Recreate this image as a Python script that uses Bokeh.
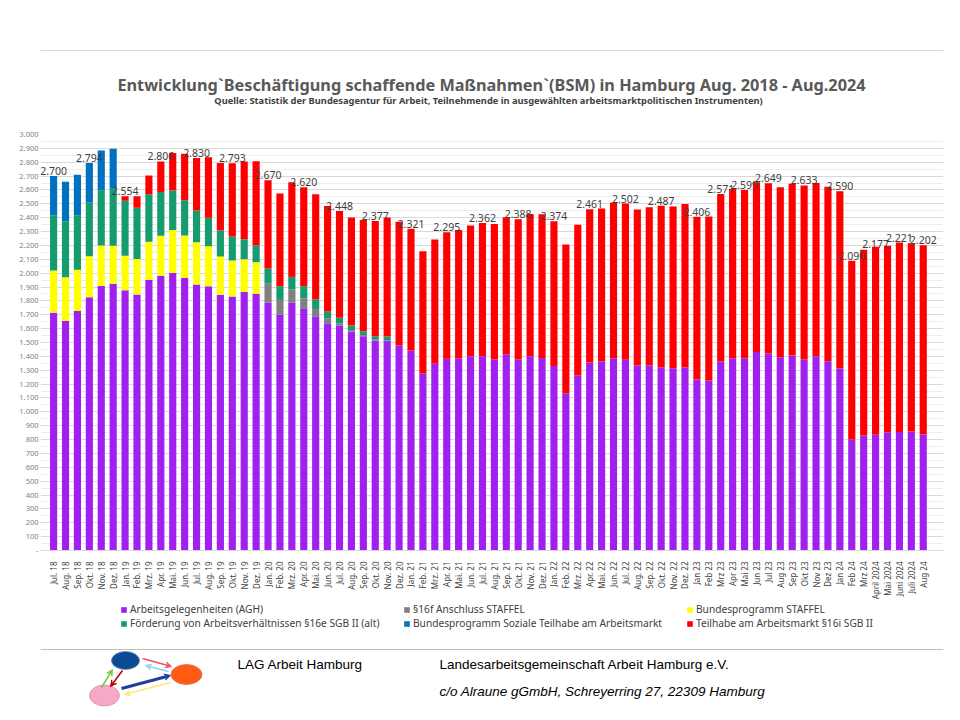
import math
from bokeh.plotting import figure
from bokeh.models import (ColumnDataSource, FixedTicker, Legend, LegendItem, Range1d,
                          Arrow, VeeHead)
from bokeh.layouts import column
from bokeh.embed import file_html
from bokeh.resources import INLINE
from bokeh.core.properties import value

# ---------------- data ----------------
months = ["Jul. 18", "Aug. 18", "Sep. 18", "Okt. 18", "Nov. 18", "Dez. 18",
          "Jan. 19", "Feb. 19", "Mrz. 19", "Apr. 19", "Mai. 19", "Jun. 19",
          "Jul. 19", "Aug. 19", "Sep. 19", "Okt. 19", "Nov. 19", "Dez. 19",
          "Jan. 20", "Feb. 20", "Mrz. 20", "Apr. 20", "Mai. 20", "Jun. 20",
          "Jul. 20", "Aug. 20", "Sep. 20", "Okt. 20", "Nov. 20", "Dez. 20",
          "Jan. 21", "Feb. 21", "Mrz. 21", "Apr. 21", "Mai. 21", "Jun. 21",
          "Jul. 21", "Aug. 21", "Sep. 21", "Okt. 21", "Nov. 21", "Dez. 21",
          "Jan. 22", "Feb. 22", "Mrz. 22", "Apr. 22", "Mai. 22", "Jun. 22",
          "Jul. 22", "Aug. 22", "Sep. 22", "Okt. 22", "Nov. 22", "Dez. 22",
          "Jan 23", "Feb 23", "Mrz 23", "Apr 23", "Mai 23", "Jun 23",
          "Jul 23", "Aug 23", "Sep 23", "Okt 23", "Nov 23", "Dez 23",
          "Jan 24", "Feb 24", "Mrz 24", "April 2024", "Mai 2024", "Juni 2024",
          "Juli 2024", "Aug 24"]

# Arbeitsgelegenheiten (AGH)
agh = [1715, 1655, 1728, 1826, 1907, 1923, 1876, 1847, 1952, 1981, 2002, 1966,
       1918, 1905, 1845, 1832, 1864, 1851, 1788, 1699, 1788, 1742, 1689, 1639,
       1622, 1580, 1545, 1515, 1510, 1480, 1442, 1276, 1348, 1382, 1387, 1401,
       1401, 1377, 1415, 1377, 1401, 1389, 1331, 1132, 1262, 1355, 1363, 1387,
       1375, 1334, 1334, 1322, 1314, 1320, 1233, 1226, 1363, 1387, 1385, 1432,
       1420, 1394, 1406, 1377, 1401, 1365, 1312, 800, 829, 835, 851, 855,
       858, 836]
# §16f Anschluss STAFFEL
s16f = [0, 0, 0, 0, 0, 0, 0, 0, 0, 0, 0, 0,
        0, 0, 0, 0, 0, 0, 139, 108, 94, 77, 53, 36,
        17, 10, 8, 5, 5, 0, 0, 0, 0, 0, 0, 0,
        0, 0, 0, 0, 0, 0, 0, 0, 0, 0, 0, 0,
        0, 0, 0, 0, 0, 0, 0, 0, 0, 0, 0, 0,
        0, 0, 0, 0, 0, 0, 0, 0, 0, 0, 0, 0,
        0, 0]
# Bundesprogramm STAFFEL
staffel = [305, 315, 297, 296, 293, 275, 249, 256, 274, 288, 310, 305,
           305, 289, 275, 259, 237, 228, 0, 0, 0, 0, 0, 0,
           0, 0, 0, 0, 0, 0, 0, 0, 0, 0, 0, 0,
           0, 0, 0, 0, 0, 0, 0, 0, 0, 0, 0, 0,
           0, 0, 0, 0, 0, 0, 0, 0, 0, 0, 0, 0,
           0, 0, 0, 0, 0, 0, 0, 0, 0, 0, 0, 0,
           0, 0]
# Förderung von Arbeitsverhältnissen §16e SGB II (alt)
s16e = [395, 405, 393, 385, 398, 410, 398, 368, 343, 317, 284, 255,
        229, 205, 187, 173, 144, 120, 106, 99, 91, 87, 70, 48,
        39, 32, 28, 25, 28, 0, 0, 0, 0, 0, 0, 0,
        0, 0, 0, 0, 0, 0, 0, 0, 0, 0, 0, 0,
        0, 0, 0, 0, 0, 0, 0, 0, 0, 0, 0, 0,
        0, 0, 0, 0, 0, 0, 0, 0, 0, 0, 0, 0,
        0, 0]
# Bundesprogramm Soziale Teilhabe am Arbeitsmarkt
soz = [285, 285, 292, 287, 286, 290, 0, 0, 0, 0, 0, 0,
       0, 0, 0, 0, 0, 0, 0, 0, 0, 0, 0, 0,
       0, 0, 0, 0, 0, 0, 0, 0, 0, 0, 0, 0,
       0, 0, 0, 0, 0, 0, 0, 0, 0, 0, 0, 0,
       0, 0, 0, 0, 0, 0, 0, 0, 0, 0, 0, 0,
       0, 0, 0, 0, 0, 0, 0, 0, 0, 0, 0, 0,
       0, 0]
# Teilhabe am Arbeitsmarkt §16i SGB II
s16i = [0, 0, 0, 0, 0, 0, 31, 83, 135, 220, 271, 336,
        378, 437, 488, 529, 560, 608, 637, 668, 683, 714, 757, 762,
        770, 779, 803, 832, 858, 890, 879, 882, 894, 913, 925, 942,
        961, 978, 988, 1011, 1026, 1036, 1043, 1074, 1088, 1106, 1103, 1122,
        1127, 1125, 1141, 1165, 1166, 1179, 1173, 1182, 1208, 1221, 1214, 1224,
        1229, 1226, 1238, 1256, 1250, 1259, 1278, 1290, 1339, 1355, 1346, 1366,
        1358, 1366]

series_names = ["Arbeitsgelegenheiten (AGH)", "§16f Anschluss STAFFEL",
                "Bundesprogramm STAFFEL",
                "Förderung von Arbeitsverhältnissen §16e SGB II (alt)",
                "Bundesprogramm Soziale Teilhabe am Arbeitsmarkt",
                "Teilhabe am Arbeitsmarkt §16i SGB II"]
series_colors = ["#A020F0", "#7F7F7F", "#FFFF00", "#169B6E", "#0070C0", "#FF0000"]

# total labels (month index, value, shown text)
label_idx = [0, 3, 6, 9, 12, 15, 18, 21, 24, 27, 30, 33, 36, 39, 42, 45, 48, 51,
             54, 56, 58, 60, 63, 66, 67, 69, 71, 73]
label_val = [2700, 2794, 2554, 2806, 2830, 2793, 2670, 2620, 2448, 2377, 2321,
             2295, 2362, 2388, 2374, 2461, 2502, 2487, 2406, 2571, 2599, 2649,
             2633, 2590, 2090, 2177, 2221, 2202]
label_text = ["2.700", "2.794", "2.554", "2.806", "2.830", "2.793", "2.670",
              "2.620", "2.448", "2.377", "2.321", "2.295", "2.362", "2.388",
              "2.374", "2.461", "2.502", "2.487", "2.406", "2.571", "2.599",
              "2.649", "2.633", "2.590", "2.090", "2.177", "2.221", "2.202"]

y_ticks = [0, 100, 200, 300, 400, 500, 600, 700, 800, 900, 1000, 1100, 1200,
           1300, 1400, 1500, 1600, 1700, 1800, 1900, 2000, 2100, 2200, 2300,
           2400, 2500, 2600, 2700, 2800, 2900, 3000]
y_tick_labels = ["-", "100", "200", "300", "400", "500", "600", "700", "800",
                 "900", "1.000", "1.100", "1.200", "1.300", "1.400", "1.500",
                 "1.600", "1.700", "1.800", "1.900", "2.000", "2.100", "2.200",
                 "2.300", "2.400", "2.500", "2.600", "2.700", "2.800", "2.900",
                 "3.000"]

title_text = "Entwicklung`Beschäftigung schaffende Maßnahmen`(BSM) in Hamburg Aug. 2018 - Aug.2024"
subtitle_text = "Quelle: Statistik der Bundesagentur für Arbeit, Teilnehmende in ausgewählten arbeitsmarktpolitischen Instrumenten)"
footer_left = "LAG Arbeit Hamburg"
footer_org = "Landesarbeitsgemeinschaft Arbeit Hamburg e.V."
footer_addr = "c/o Alraune gGmbH, Schreyerring 27, 22309 Hamburg"

FONT = "Noto Sans"
W = 944
BL, BR = 40, 1          # shared left/right borders so all frames line up
FL, FR = BL, W - BR     # frame edges in page pixels

# ---------------- header ----------------
hdr = figure(width=W, height=110, x_range=Range1d(FL, FR), y_range=Range1d(110, 0),
             output_backend="svg", toolbar_location=None,
             min_border_left=BL, min_border_right=BR, min_border_top=0,
             min_border_bottom=0, x_axis_type=None, y_axis_type=None)
hdr.grid.visible = False
hdr.outline_line_color = None
hdr.segment(x0=[FL], y0=[50], x1=[FR], y1=[50], line_color="#d9d9d9", line_width=1)
hdr.text(x=[491], y=[84], text=[title_text], text_align="center",
         text_baseline="middle", text_font=value(FONT), text_font_style="bold",
         text_font_size="16.3px", text_color="#595959")
hdr.text(x=[488], y=[100], text=[subtitle_text], text_align="center",
         text_baseline="middle", text_font=value(FONT), text_font_style="bold",
         text_font_size="9.3px", text_color="#404040")

# ---------------- main chart ----------------
xs = list(range(len(months)))
src = ColumnDataSource(dict(x=xs, agh=agh, s16f=s16f, staffel=staffel,
                            s16e=s16e, soz=soz, s16i=s16i))
stack_keys = ["agh", "s16f", "staffel", "s16e", "soz", "s16i"]

MH = 530           # main figure height (page y 110 .. 640)
TOP = 24           # frame top at page y 134
PLOT_PX = 416      # pixels for 0..3000
y_max = y_ticks[-1]
y_min = -y_max * (MH - TOP - PLOT_PX) / PLOT_PX   # room below zero for labels + legend

p = figure(width=W, height=MH, x_range=Range1d(-1.1, len(months) + 0.7),
           y_range=Range1d(y_min, y_max), output_backend="svg", toolbar_location=None,
           min_border_left=BL, min_border_right=BR, min_border_top=TOP,
           min_border_bottom=0)
p.outline_line_color = None
p.background_fill_color = "white"

renderers = p.vbar_stack(stack_keys, x="x", width=0.6, color=series_colors,
                         source=src, line_color=None)

lsrc = ColumnDataSource(dict(x=label_idx, y=label_val, t=label_text))
p.text(x="x", y="y", text="t", source=lsrc, text_align="center",
       text_baseline="alphabetic", y_offset=-5, text_font=value(FONT),
       text_font_size="10.5px", text_color="#404040")

# axes
p.xaxis.fixed_location = 0
p.xaxis.ticker = FixedTicker(ticks=xs)
p.xaxis.major_label_overrides = {i: m for i, m in zip(xs, months)}
p.xaxis.major_label_orientation = math.pi / 2
p.xaxis.major_label_text_font = FONT
p.xaxis.major_label_text_font_size = "8px"
p.xaxis.major_label_text_color = "#404040"
p.xaxis.major_tick_line_color = None
p.xaxis.minor_tick_line_color = None
p.xaxis.axis_line_color = "#d9d9d9"
p.xaxis.major_label_standoff = 5

minor = [t + 50 for t in y_ticks[:-1]]
p.yaxis.ticker = FixedTicker(ticks=y_ticks, minor_ticks=minor)
p.yaxis.major_label_overrides = {t: s for t, s in zip(y_ticks, y_tick_labels)}
p.yaxis.major_label_text_font = FONT
p.yaxis.major_label_text_font_size = "7.5px"
p.yaxis.major_label_text_color = "#7f7f7f"
p.yaxis.axis_line_color = None
p.yaxis.major_tick_line_color = None
p.yaxis.minor_tick_line_color = None
p.yaxis.major_label_standoff = -4

p.xgrid.grid_line_color = None
p.ygrid.grid_line_color = "#d9d9d9"
p.ygrid.minor_grid_line_color = "#eeeeee"

items = [LegendItem(label=n, renderers=[r]) for n, r in zip(series_names, renderers)]
legend = Legend(items=items, location=(80, 10), orientation="horizontal", ncols=3,
                glyph_width=7, glyph_height=7, label_standoff=3, label_width=273,
                label_height=8, spacing=-2, padding=0, margin=0,
                border_line_color=None, background_fill_alpha=0,
                label_text_font=FONT, label_text_font_size="10.2px",
                label_text_color="#404040")
p.add_layout(legend, "center")

# ---------------- footer ----------------
FH = 72
ft = figure(width=W, height=FH, x_range=Range1d(FL, FR), y_range=Range1d(FH, 0),
            output_backend="svg", toolbar_location=None,
            min_border_left=BL, min_border_right=BR, min_border_top=0,
            min_border_bottom=0, x_axis_type=None, y_axis_type=None)
ft.grid.visible = False
ft.outline_line_color = None
ft.segment(x0=[FL], y0=[9], x1=[FR], y1=[9], line_color="#bfbfbf", line_width=1)

arrows = [((142, 18), (171, 26), "#f0506e", 1.5),
          ((168, 31), (145, 25), "#8fd8e6", 1.5),
          ((101, 47), (112, 29), "#7ac943", 1.5),
          ((122, 30), (110, 46), "#c00000", 1.5),
          ((121, 48), (170, 35), "#1f3f99", 3),
          ((170, 42), (124, 54), "#ffe680", 1.5)]
for (xs0, ys0), (xe, ye), c, lw in arrows:
    ft.add_layout(Arrow(x_start=xs0, y_start=ys0, x_end=xe, y_end=ye,
                        line_color=c, line_width=lw,
                        end=VeeHead(size=6, line_color=c, fill_color=c)))
ft.ellipse(x=[125, 186, 104], y=[20, 34, 55], width=[28, 31, 30], height=[18, 20, 21],
           fill_color=["#0b4a94", "#ff5b14", "#f7a8c8"],
           line_color=["#6a7fb0", "#e07050", "#e08aa8"], line_width=0.8)
ft.text(x=[237], y=[24], text=[footer_left], text_baseline="middle",
        text_font=value("Liberation Sans"), text_font_size="13.5px", text_color="#000000")
ft.text(x=[439], y=[24], text=[footer_org], text_baseline="middle",
        text_font=value("Liberation Sans"), text_font_size="13.5px", text_color="#000000")
ft.text(x=[439], y=[51], text=[footer_addr], text_baseline="middle",
        text_font=value("Liberation Sans"), text_font_style="italic",
        text_font_size="13.5px", text_color="#000000")

layout = column(hdr, p, ft, spacing=0)
open("out.html", "w").write(file_html(layout, INLINE))
